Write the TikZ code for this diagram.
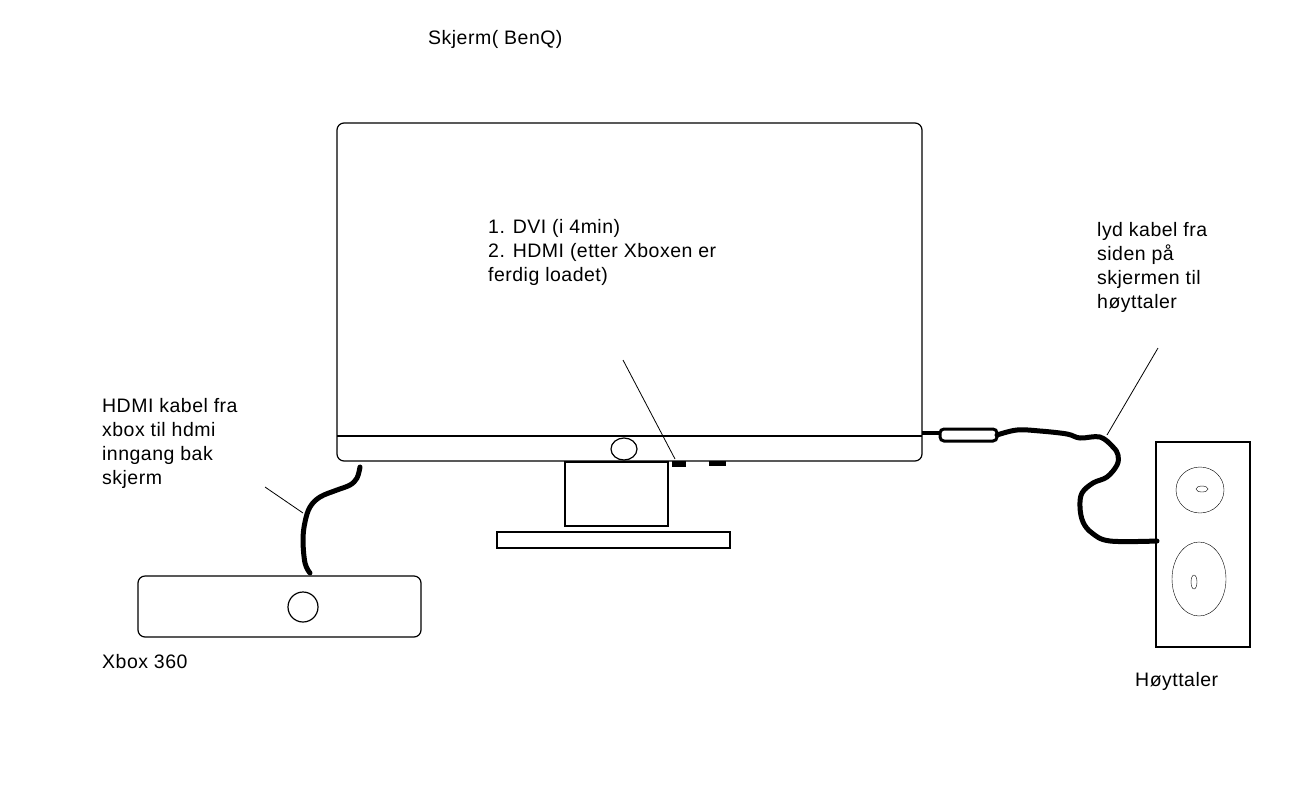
\documentclass[tikz,border=0pt]{standalone}
\usepackage{fontspec}
\setmainfont{Liberation Sans}[LetterSpace=2.5]
\usepackage{tikz}
\usetikzlibrary{positioning,calc}

\tikzset{
    label text/.style={inner sep=0pt, anchor=base west, align=left, font=\fontsize{19.5}{24}\selectfont},
    outline/.style={line width=1.2pt},
    cable/.style={line width=5pt, line cap=round, line join=round},
    pointer/.style={line width=0.8pt}
}

\begin{document}
\begin{tikzpicture}[x=1pt,y=-1pt]
    \useasboundingbox (0,0) rectangle (1312,807);

    % Monitor
    \draw[outline, rounded corners=7] (337,123) rectangle (922,461);
    \draw[outline] (337,436) -- (922,436);
    \draw[outline] (624,449) ellipse (13 and 11);
    \draw[outline] (565,462) rectangle (668,526); % neck
    \draw[outline] (497,532) rectangle (730,548); % foot
    \fill (672,461) rectangle (686,467); % ports
    \fill (709,461) rectangle (726,466);
    \node[label text] (screen) at (428,44) {Skjerm( BenQ)};
    \node[label text] (inputs) at (488,281) {1. DVI (i 4min)\\2. HDMI (etter Xboxen er\\ferdig loadet)};
    \coordinate (inputtip) at (623,360);
    \coordinate (port) at (675,459);
    \draw[pointer] (inputtip) -- (port);

    % Xbox
    \draw[outline, rounded corners=7] (138,576) rectangle (421,637);
    \draw[outline] (303,607) circle (15);
    \node[label text] (xbox) at (102,668) {Xbox 360};
    \coordinate (hdmiin) at (360,467);
    \coordinate (xboxout) at (310,573);
    \draw[cable] plot[smooth, tension=0.6] coordinates {(hdmiin) (357,478) (350,485) (337,490) (320,497) (310,507) (305,522) (303,540) (305,563) (xboxout)};
    \node[label text] (hdmitext) at (102,484) {HDMI kabel fra\\xbox til hdmi\\inngang bak\\skjerm};
    \coordinate (hdmitip) at (265,487);
    \coordinate (hdmicable) at (303,513);
    \draw[pointer] (hdmitip) -- (hdmicable);

    % Speaker
    \draw[outline] (1156,442) rectangle (1250,647);
    \draw (1200,490) ellipse (24 and 23);
    \draw (1202,489) ellipse (6 and 3);
    \draw (1199,579) ellipse (27 and 37);
    \draw (1194,582) ellipse (3 and 7);
    \node[label text] (speaker) at (1135,686) {Høyttaler};

    % Audio cable
    \coordinate (audioout) at (922,433);
    \coordinate (jack) at (940,433);
    \draw[line width=4pt] (audioout) -- (jack);
    \draw[line width=3pt, rounded corners=4] (940,429) rectangle (997,441);
    \coordinate (speakerin) at (1157,541);
    \draw[cable] plot[smooth, tension=0.6] coordinates {(997,435) (1017,430) (1040,431) (1067,434) (1080,438) (1100,437) (1113,447) (1118,455) (1117,465) (1107,477) (1093,483) (1082,493) (1080,507) (1083,522) (1092,533) (1110,541) (speakerin)};
    \node[label text] (audiotext) at (1097,308) {lyd kabel fra\\siden på\\skjermen til\\høyttaler};
    \coordinate (audiotip) at (1158,348);
    \coordinate (audiocable) at (1107,435);
    \draw[pointer] (audiotip) -- (audiocable);

\end{tikzpicture}
\end{document}
